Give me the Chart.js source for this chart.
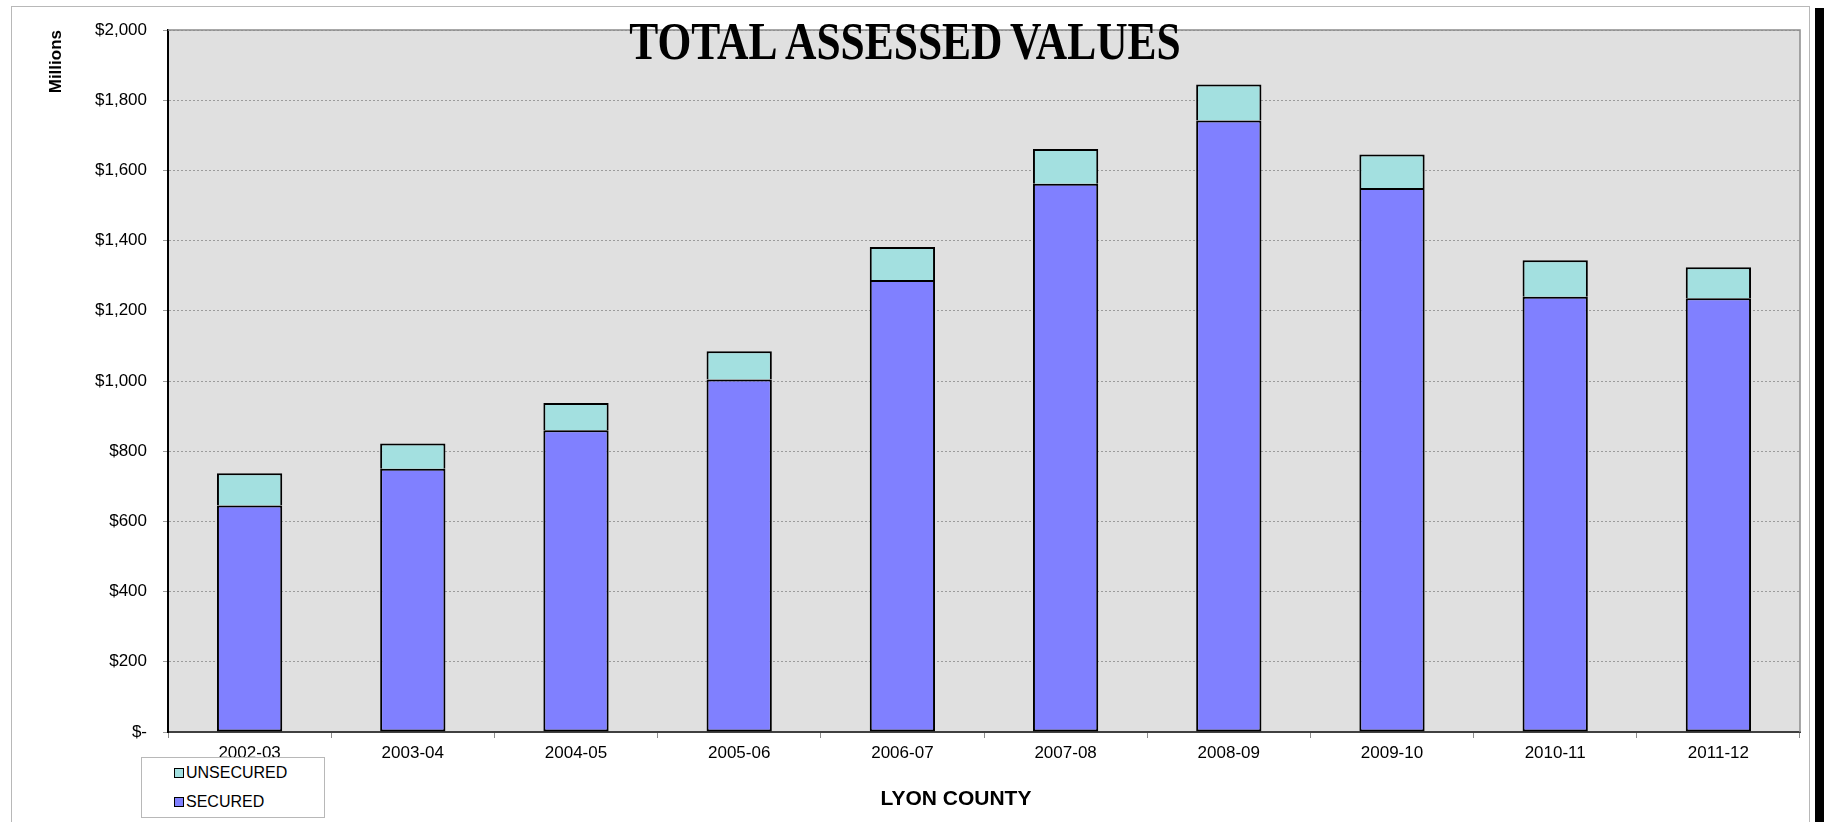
<!DOCTYPE html>
<html>
<head>
<meta charset="utf-8">
<script src="https://cdn.jsdelivr.net/npm/chart.js@4.4.1/dist/chart.umd.min.js"></script>
<style>
  html, body { margin: 0; padding: 0; background: #fff; }
  #wrap { position: relative; width: 1824px; height: 822px; overflow: hidden; }
  #frame { position: absolute; left: 11px; top: 6px; width: 1799px; height: 840px; border: 1px solid #b8b8b8; box-sizing: border-box; }
  #edge { position: absolute; left: 1815px; top: 8px; width: 9px; height: 814px; background: #000; }
  canvas { position: absolute; left: 0; top: 0; }
  #legend { position: absolute; left: 141px; top: 757px; width: 184px; height: 61px; border: 1px solid #b8b8b8;
            box-sizing: border-box; background: #fff; font: 16px "Liberation Sans", Arial, sans-serif; color: #000; }
  .item { position: absolute; left: 32px; height: 18px; line-height: 18px; }
  .sw { position: absolute; left: 0; top: 4px; width: 8px; height: 8px; border: 1px solid #000; }
  .lbl { position: absolute; left: 12px; top: 0; white-space: nowrap; }
</style>
</head>
<body>
<div id="wrap">
  <div id="frame"></div>
  <canvas id="c" width="1824" height="822"></canvas>
  <div id="legend"></div>
  <div id="edge"></div>
</div>
<script>
// valores em milhões de dólares
const years = ['2002-03', '2003-04', '2004-05', '2005-06', '2006-07', '2007-08', '2008-09', '2009-10', '2010-11', '2011-12'];
const secured = [645, 750, 860, 1004, 1288, 1562, 1742, 1550, 1240, 1236];
const unsecured = [92, 72, 77, 81, 94, 99, 103, 95, 104, 88];

const titleText = 'TOTAL ASSESSED VALUES';
const countyText = 'LYON COUNTY';
const FONT = '"Liberation Sans", Arial, sans-serif';

// fundo cinza da área do gráfico + borda superior/direita
const plotArea = {
  id: 'plotArea',
  beforeDraw(chart) {
    const { ctx, chartArea: a } = chart;
    ctx.save();
    ctx.fillStyle = '#e0e0e0';
    ctx.fillRect(a.left, a.top, a.right - a.left, a.bottom - a.top);
    ctx.restore();
  },
  beforeDatasetsDraw(chart) {
    const { ctx, chartArea: a } = chart;
    ctx.save();
    ctx.strokeStyle = '#8c8c8c';
    ctx.lineWidth = 1.5;
    ctx.beginPath();
    ctx.moveTo(a.left, a.top);
    ctx.lineTo(a.right, a.top);
    ctx.lineTo(a.right, a.bottom);
    ctx.stroke();
    ctx.restore();
  }
};

const extraText = {
  id: 'extraText',
  afterDraw(chart) {
    const ctx = chart.ctx;
    ctx.save();
    ctx.fillStyle = '#000';
    ctx.textAlign = 'center';
    ctx.textBaseline = 'alphabetic';
    ctx.translate(905, 59);
    ctx.scale(0.82, 1);
    ctx.font = 'bold 53px "Liberation Serif", "Times New Roman", serif';
    if ('wordSpacing' in ctx) ctx.wordSpacing = '-4px';
    ctx.fillText(titleText, 0, 0);
    ctx.restore();

    ctx.save();
    ctx.fillStyle = '#000';
    ctx.textAlign = 'center';
    ctx.textBaseline = 'alphabetic';
    ctx.font = 'bold 21px ' + FONT;
    ctx.fillText(countyText, 956, 805);
    ctx.restore();
  }
};

const chart = new Chart(document.getElementById('c'), {
  type: 'bar',
  data: {
    labels: years,
    datasets: [
      {
        label: 'SECURED',
        data: secured,
        backgroundColor: '#8080ff',
        borderColor: '#000',
        borderWidth: 2,
        borderSkipped: false,
        barPercentage: 0.4,
        categoryPercentage: 1
      },
      {
        label: 'UNSECURED',
        data: unsecured,
        backgroundColor: '#a3e0e0',
        borderColor: '#000',
        borderWidth: 2,
        borderSkipped: 'start',
        barPercentage: 0.4,
        categoryPercentage: 1
      }
    ]
  },
  options: {
    responsive: false,
    animation: false,
    layout: { padding: { left: 0, top: 30, right: 24, bottom: 0 } },
    plugins: {
      legend: { display: false },
      title: { display: false },
      tooltip: { enabled: false }
    },
    scales: {
      x: {
        stacked: true,
        afterFit(scale) { scale.height = 90; },
        grid: { display: true, drawOnChartArea: false, drawTicks: true, tickLength: 6, color: '#8c8c8c', offset: true },
        border: { display: true, color: '#404040', width: 2 },
        ticks: { color: '#000', padding: 5, font: { family: FONT, size: 17 } }
      },
      y: {
        stacked: true,
        min: 0,
        max: 2000,
        afterFit(scale) { scale.width = 168; },
        ticks: {
          stepSize: 200,
          color: '#000',
          padding: 16,
          font: { family: FONT, size: 17 },
          callback: (v) => v === 0 ? '$-' : '$' + v.toLocaleString('en-US')
        },
        grid: { color: '#9c9c9c', lineWidth: 1, tickLength: 5 },
        border: { display: true, color: '#000', width: 2, dash: [2, 2] },
        title: {
          display: true,
          text: 'Millions',
          align: 'end',
          color: '#000',
          padding: { top: 46, bottom: 0 },
          font: { family: FONT, size: 17, weight: 'bold' }
        }
      }
    }
  },
  plugins: [plotArea, extraText]
});

// legenda em HTML, na ordem inversa (como no Excel)
const legendEl = document.getElementById('legend');
chart.data.datasets.slice().reverse().forEach((ds, i) => {
  const item = document.createElement('div');
  item.className = 'item';
  item.style.top = (6 + i * 29) + 'px';
  item.innerHTML = `<span class="sw" style="background:${ds.backgroundColor}"></span><span class="lbl">${ds.label}</span>`;
  legendEl.appendChild(item);
});
</script>
</body>
</html>
